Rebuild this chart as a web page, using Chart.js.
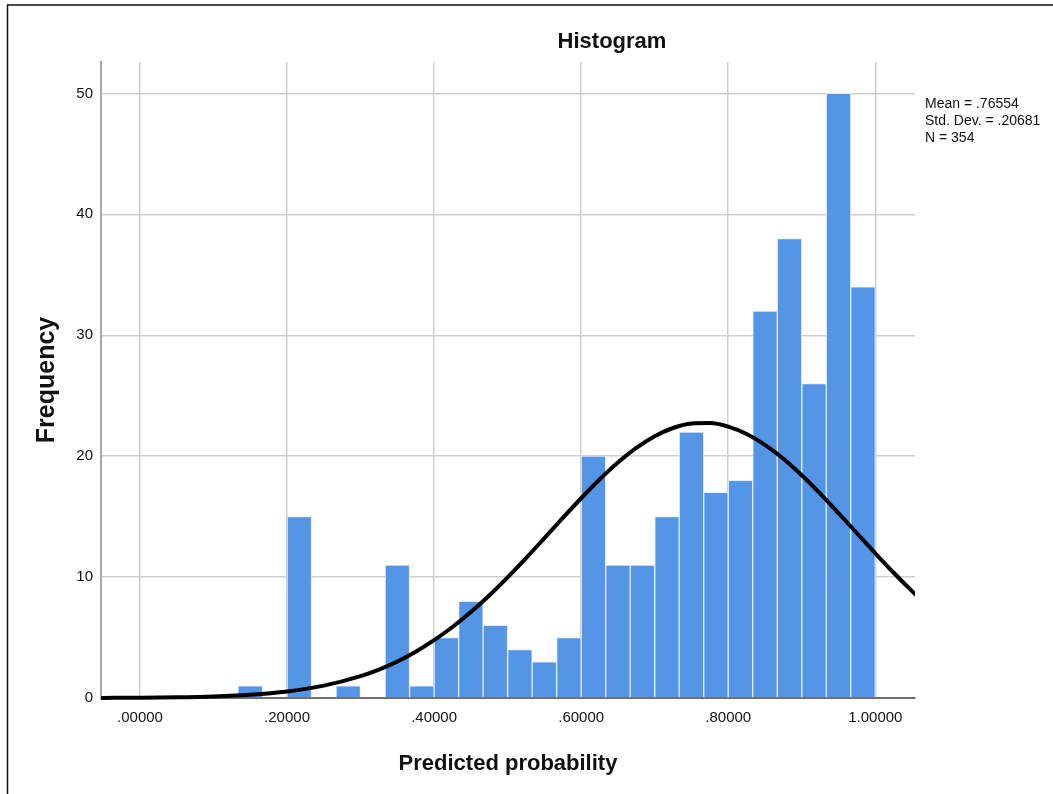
<!DOCTYPE html>
<html>
<head>
<meta charset="utf-8">
<script src="https://cdn.jsdelivr.net/npm/chart.js@4/dist/chart.umd.min.js"></script>
<style>
  html, body { margin: 0; padding: 0; background: #fff; }
  #wrap { position: relative; width: 1053px; height: 794px; }
  canvas { display: block; }
</style>
</head>
<body>
<div id="wrap"><canvas id="c" width="1053" height="794"></canvas></div>
<script>
// ---- Data ----
const chartTitle = 'Histogram';
const xAxisTitle = 'Predicted probability';
const yAxisTitle = 'Frequency';
const statsLines = ['Mean = .76554', 'Std. Dev. = .20681', 'N = 354'];

// histogram bin centres (bin width 1/30)
const binCenters = [0.15, 0.1833, 0.2167, 0.25, 0.2833, 0.3167, 0.35, 0.3833, 0.4167, 0.45,
  0.4833, 0.5167, 0.55, 0.5833, 0.6167, 0.65, 0.6833, 0.7167, 0.75, 0.7833,
  0.8167, 0.85, 0.8833, 0.9167, 0.95, 0.9833];
const binCounts = [1, 0, 15, 0, 1, 0, 11, 1, 5, 8,
  6, 4, 3, 5, 20, 11, 11, 15, 22, 17,
  18, 32, 38, 26, 50, 34];

// fitted normal curve
const curveX = [-0.06, -0.05, 0, 0.05, 0.1, 0.15, 0.2, 0.25, 0.3, 0.325, 0.35, 0.375, 0.4, 0.425,
  0.45, 0.475, 0.5, 0.525, 0.55, 0.575, 0.6, 0.625, 0.65, 0.675, 0.7, 0.725, 0.75, 0.775,
  0.8, 0.825, 0.85, 0.875, 0.9, 0.925, 0.95, 0.975, 1.0, 1.025, 1.05, 1.06];
const curveY = [0.007, 0.01, 0.024, 0.057, 0.13, 0.27, 0.54, 1.02, 1.81, 2.35, 3.02, 3.83, 4.78, 5.87,
  7.11, 8.48, 9.98, 11.57, 13.22, 14.89, 16.52, 18.07, 19.47, 20.68, 21.65, 22.33, 22.70, 22.74,
  22.45, 21.84, 20.94, 19.79, 18.42, 16.91, 15.29, 13.63, 11.97, 10.36, 8.84, 8.26];

const xTickValues = [0, 0.2, 0.4, 0.6, 0.8, 1.0];
const xTickLabels = ['.00000', '.20000', '.40000', '.60000', '.80000', '1.00000'];
const yTickValues = [0, 10, 20, 30, 40, 50];

const xMin = -0.053, xMax = 1.054;
const yMin = 0, yMax = 52.6;

const FONT = "'Liberation Sans', Arial, sans-serif";

const decorPlugin = {
  id: 'decor',
  beforeDraw(chart) {
    const ctx = chart.ctx;
    ctx.save();
    ctx.fillStyle = '#ffffff';
    ctx.fillRect(0, 0, chart.width, chart.height);
    ctx.strokeStyle = '#111';
    ctx.lineWidth = 1.5;
    ctx.beginPath();
    ctx.moveTo(7.5, chart.height);
    ctx.lineTo(7.5, 5);
    ctx.lineTo(chart.width, 5);
    ctx.stroke();
    ctx.restore();
  },
  afterDraw(chart) {
    const ctx = chart.ctx;
    ctx.save();
    ctx.fillStyle = '#111';
    ctx.textBaseline = 'middle';
    ctx.textAlign = 'center';
    ctx.font = 'bold 22px ' + FONT;
    ctx.fillText(chartTitle, 612, 42);
    ctx.textAlign = 'left';
    ctx.font = '14px ' + FONT;
    statsLines.forEach((t, i) => ctx.fillText(t, 925, 104 + i * 17));
    ctx.restore();
  }
};

new Chart(document.getElementById('c'), {
  type: 'bar',
  data: {
    datasets: [
      {
        type: 'line',
        data: curveX.map((x, i) => ({ x: x, y: curveY[i] })),
        borderColor: '#000000',
        borderWidth: 4,
        pointRadius: 0,
        cubicInterpolationMode: 'monotone',
        fill: false,
        order: 0,
        clip: { left: 0, right: 0, top: 0, bottom: 6 }
      },
      {
        type: 'bar',
        data: binCenters.map((x, i) => ({ x: x, y: binCounts[i] })),
        backgroundColor: '#5595e5',
        borderColor: 'rgba(225,236,252,0.95)',
        borderWidth: 1,
        borderSkipped: 'start',
        barPercentage: 1,
        categoryPercentage: 1,
        order: 1
      }
    ]
  },
  options: {
    responsive: false,
    animation: false,
    devicePixelRatio: 1,
    layout: { padding: { left: 0, right: 138, top: 62, bottom: 0 } },
    plugins: {
      legend: { display: false },
      tooltip: { enabled: false },
      title: { display: false }
    },
    scales: {
      x: {
        type: 'linear',
        min: xMin,
        max: xMax,
        offset: false,
        afterFit(scale) { scale.height = 96; },
        afterBuildTicks(scale) { scale.ticks = xTickValues.map(v => ({ value: v })); },
        grid: { color: '#cfcfcf', lineWidth: 1.5, drawTicks: false, offset: false },
        border: { display: true, color: '#6e6e6e', width: 2 },
        ticks: {
          padding: 11,
          color: '#111',
          font: { family: FONT, size: 15 },
          maxRotation: 0,
          autoSkip: false,
          callback: (v) => {
            const i = xTickValues.findIndex(t => Math.abs(t - v) < 1e-9);
            return i >= 0 ? xTickLabels[i] : '';
          }
        },
        title: {
          display: true,
          text: xAxisTitle,
          color: '#111',
          font: { family: FONT, size: 22, weight: 'bold' },
          padding: { top: 0, bottom: 17 }
        }
      },
      y: {
        type: 'linear',
        min: yMin,
        max: yMax,
        afterFit(scale) { scale.width = 101; },
        afterBuildTicks(scale) { scale.ticks = yTickValues.map(v => ({ value: v })); },
        grid: { color: '#cfcfcf', lineWidth: 1.5, drawTicks: false },
        border: { display: true, color: '#a8a8a8', width: 2 },
        ticks: {
          padding: 8,
          color: '#111',
          font: { family: FONT, size: 15 }
        },
        title: {
          display: true,
          text: yAxisTitle,
          color: '#111',
          font: { family: FONT, size: 25, weight: 'bold' },
          padding: { top: 32, bottom: 0 }
        }
      }
    }
  },
  plugins: [decorPlugin]
});
</script>
</body>
</html>
